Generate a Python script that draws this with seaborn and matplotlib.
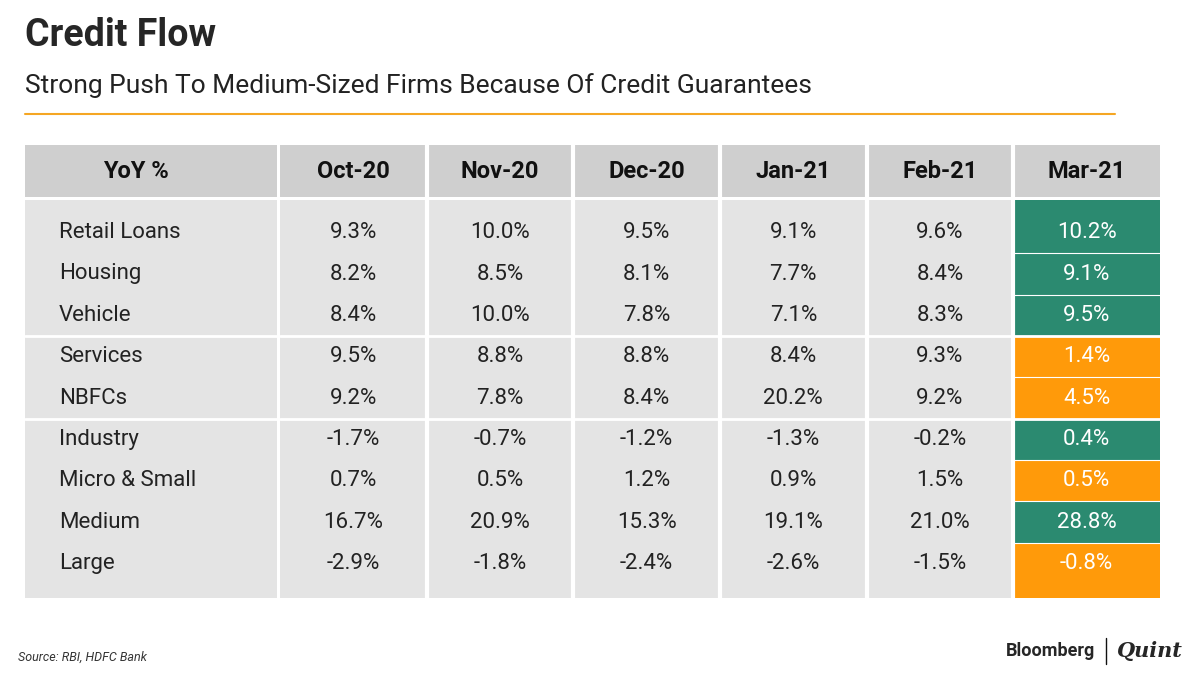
import matplotlib
matplotlib.use("Agg")
import matplotlib.pyplot as plt
from matplotlib.colors import ListedColormap
import seaborn as sns
import numpy as np

sns.set_theme(style="white")
plt.rcParams['font.family'] = 'Roboto'

title = "Credit Flow"
subtitle = "Strong Push To Medium-Sized Firms Because Of Credit Guarantees"
months = ["Oct-20", "Nov-20", "Dec-20", "Jan-21", "Feb-21", "Mar-21"]
categories = ["Retail Loans", "Housing", "Vehicle", "Services", "NBFCs",
              "Industry", "Micro & Small", "Medium", "Large"]
values = [
    [9.3, 10.0, 9.5, 9.1, 9.6, 10.2],
    [8.2, 8.5, 8.1, 7.7, 8.4, 9.1],
    [8.4, 10.0, 7.8, 7.1, 8.3, 9.5],
    [9.5, 8.8, 8.8, 8.4, 9.3, 1.4],
    [9.2, 7.8, 8.4, 20.2, 9.2, 4.5],
    [-1.7, -0.7, -1.2, -1.3, -0.2, 0.4],
    [0.7, 0.5, 1.2, 0.9, 1.5, 0.5],
    [16.7, 20.9, 15.3, 19.1, 21.0, 28.8],
    [-2.9, -1.8, -2.4, -2.6, -1.5, -0.8],
]
# Mar-21 highlight: 1 = green, 2 = orange
mar_highlight = [1, 1, 1, 2, 2, 1, 2, 1, 2]

W, H = 1200, 675
fig = plt.figure(figsize=(12, 6.75), dpi=100)
fig.patch.set_facecolor("white")

def px_axes(x0, y0, x1, y1):
    return fig.add_axes([x0 / W, 1 - y1 / H, (x1 - x0) / W, (y1 - y0) / H])

fig.text(25 / W, 1 - 36 / H, title, fontsize=27, fontweight="bold", va="center")
fig.text(25 / W, 1 - 86 / H, subtitle, fontsize=19, va="center", color="#222222")
fig.add_artist(plt.Line2D([25 / W, 1115 / W], [1 - 114 / H] * 2, color="#f5a623", lw=1.5))

header_gray, body_gray = "#cfcfcf", "#e4e4e4"
green, orange = "#2b8a70", "#ff9a0a"
cmap = ListedColormap([body_gray, green, orange, header_gray])
hm = dict(cmap=cmap, vmin=0, vmax=3, cbar=False)

# header row
hax = px_axes(280, 145, 1160, 197)
sns.heatmap(np.full((1, 6), 3), ax=hax, annot=np.array([months]), fmt="",
            annot_kws={"fontsize": 17, "fontweight": "bold", "color": "#111111"}, **hm)
hlab = px_axes(25, 145, 277, 197)
hlab.set_facecolor(header_gray)
hlab.text(0.44, 0.5, "YoY %", ha="center", va="center", fontsize=17, fontweight="bold", color="#111111")

# body: padding strips above/below, main grid in between
top, r0, r1, bot = 200, 212, 584, 598
colors = np.zeros((9, 6))
colors[:, 5] = mar_highlight
labels = np.array([[f"{v:.1f}%" for v in row] for row in values])

pad_top = px_axes(280, top, 1160, r0)
sns.heatmap(colors[:1], ax=pad_top, **hm)
pad_bot = px_axes(280, r1, 1160, bot)
sns.heatmap(colors[-1:], ax=pad_bot, **hm)

bax = px_axes(280, r0, 1160, r1)
sns.heatmap(colors, ax=bax, annot=labels, fmt="",
            annot_kws={"fontsize": 16, "color": "#222222"}, **hm)
for t, c in zip(bax.texts, colors.flatten()):
    if c in (1, 2):
        t.set_color("white")

blab = px_axes(25, top, 277, bot)
blab.set_facecolor(body_gray)
blab.set_xlim(0, 1)
blab.set_ylim(bot, top)
pitch = (r1 - r0) / 9.0
for i, cat in enumerate(categories):
    blab.text(0.135, r0 + pitch * (i + 0.5), cat, ha="left", va="center", fontsize=16, color="#222222")

axes = (hax, hlab, bax, blab, pad_top, pad_bot)
for ax in axes:
    ax.set_xticks([])
    ax.set_yticks([])
    for s in ax.spines.values():
        s.set_visible(False)

for ax in (hax, bax, pad_top, pad_bot):
    for x in range(1, 6):
        ax.axvline(x, color="white", lw=3)
for y in (3, 5):
    bax.axhline(y, color="white", lw=2)
    blab.axhline(r0 + pitch * y, color="white", lw=2)
for y in range(1, 9):
    bax.plot([5, 6], [y, y], color="white", lw=0.8)

fig.text(18 / W, 1 - 657 / H, "Source: RBI, HDFC Bank", fontsize=9, style="italic", color="#333333", va="center")
fig.text(1095 / W, 1 - 651 / H, "Bloomberg", fontsize=13, fontweight="bold", ha="right", va="center")
fig.add_artist(plt.Line2D([1106 / W] * 2, [1 - 638 / H, 1 - 664 / H], color="#111111", lw=1))
fig.text(1117 / W, 1 - 651 / H, "Quint", fontsize=15, fontweight="bold", style="italic",
         family="DejaVu Serif", va="center")

fig.savefig("out.png", dpi=100)
